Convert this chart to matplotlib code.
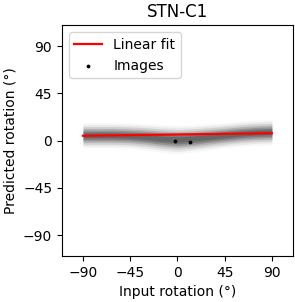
import numpy as np
import matplotlib
matplotlib.use("Agg")
import matplotlib.pyplot as plt

# band of predictions (degrees)
input_deg = [-90, -75, -60, -45, -30, -15, 0, 15, 30, 45, 60, 75, 90]
band_center = [5.0, 5.0, 5.0, 4.5, 3.5, 2.0, 1.0, 2.0, 3.5, 5.0, 6.5, 7.5, 8.0]
band_halfwidth = [12, 12, 12, 12, 12.5, 13, 13.5, 13, 12.5, 12, 12, 12, 12]

# a few isolated dark points
dot_x = [-2, 12]
dot_y = [-0.5, -1.0]

# linear fit
fit_x = [-90, 90]
fit_slope = 0.0133
fit_intercept = 5.8

ticks = [-90, -45, 0, 45, 90]

fig = plt.figure(figsize=(2.95, 3.02), dpi=100)
ax = fig.add_axes([0.210, 0.152, 0.783, 0.765])

x = np.array(input_deg, dtype=float)
c = np.array(band_center)
w = np.array(band_halfwidth)

# stacked translucent layers give the dense scatter look
layers = [(1.0, 0.03), (0.85, 0.06), (0.7, 0.10), (0.55, 0.14), (0.42, 0.17), (0.3, 0.18), (0.18, 0.15)]
for frac, a in layers:
    ax.fill_between(x, c - frac * w, c + frac * w, color='black', alpha=a, lw=0)

ax.scatter(dot_x, dot_y, s=3, color='black', label='Images', zorder=3)

fx = np.array(fit_x, dtype=float)
ax.plot(fx, fit_slope * fx + fit_intercept, color='red', lw=1.6, label='Linear fit', zorder=4)

ax.set_xlim(-110, 110)
ax.set_ylim(-110, 110)
ax.set_xticks(ticks)
ax.set_yticks(ticks)
ax.set_xlabel('Input rotation (°)')
ax.set_ylabel('Predicted rotation (°)')
ax.set_title('STN-C1')

handles, labels = ax.get_legend_handles_labels()
ax.legend(handles[::-1], labels[::-1], loc='upper left')

fig.savefig('out.png', dpi=100)
